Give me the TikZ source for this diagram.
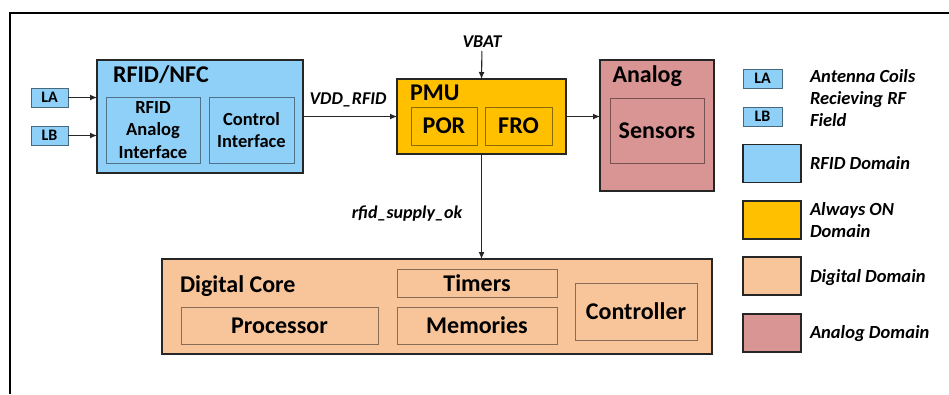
\documentclass[tikz,border=0pt]{standalone}
\usepackage{fontspec}
\setmainfont{Carlito}
\usetikzlibrary{arrows.meta}
\definecolor{rfidblue}{RGB}{143,208,248}
\definecolor{aongold}{RGB}{255,192,0}
\definecolor{digpeach}{RGB}{248,196,154}
\definecolor{anared}{RGB}{217,149,148}
\begin{document}
\begin{tikzpicture}[x=1pt,y=-1pt,
  every node/.style={inner sep=0pt, outer sep=0pt},
  dom/.style={draw=black!85, line width=1.6pt, fill=#1},
  sub/.style={draw=#1!55!black, line width=0.8pt, fill=#1, font=\bfseries\fontsize{24}{28}\selectfont, align=center},
  subsm/.style={font=\bfseries\fontsize{18.5}{22.5}\selectfont},
  small/.style={draw=rfidblue!50!black, line width=0.8pt, fill=rfidblue, font=\bfseries\fontsize{16}{18}\selectfont, minimum width=37pt, minimum height=19pt},
  title/.style={anchor=base west, font=\bfseries\fontsize{24}{28}\selectfont},
  sig/.style={anchor=base, font=\bfseries\itshape\fontsize{18}{22}\selectfont},
  leg/.style={anchor=base west, align=left, font=\bfseries\itshape\fontsize{18.5}{22}\selectfont},
  swatch/.style={draw=black!85, line width=1.4pt, fill=#1, minimum width=58pt, minimum height=38pt},
  arr/.style={draw=black!85, line width=1.1pt, -{Latex[length=7pt,width=6pt]}},
]
\useasboundingbox (0,0) rectangle (949,394);
\draw[line width=1.8pt] (10,394) -- (10,13) -- (949,13);

% RFID/NFC
\node[dom=rfidblue, minimum width=206pt, minimum height=113pt] (rfid) at (200,116.5) {};
\node[title] (rfidt) at (113,82) {RFID/NFC};
\node[sub=rfidblue, subsm, minimum width=94pt, minimum height=66pt] (rai) at (153,130) {RFID\\Analog\\Interface};
\node[sub=rfidblue, subsm, minimum width=85pt, minimum height=66pt] (ci) at (251.5,130) {Control\\Interface};
\node[small] (la) at (49.5,97.5) {LA};
\node[small] (lb) at (49.5,135.5) {LB};

% PMU
\node[dom=aongold, minimum width=169pt, minimum height=75pt] (pmu) at (481.5,116.5) {};
\node[title] (pmut) at (410,100) {PMU};
\node[sub=aongold, minimum width=66pt, minimum height=38pt] (por) at (444,126) {POR};
\node[sub=aongold, minimum width=67pt, minimum height=38pt] (fro) at (518.5,126) {FRO};

% Analog
\node[dom=anared, minimum width=114pt, minimum height=131pt] (ana) at (657,125.5) {};
\node[title] (anat) at (612.5,82) {Analog};
\node[sub=anared, minimum width=94pt, minimum height=65pt] (sens) at (657,130.5) {Sensors};

% Digital core
\node[dom=digpeach, minimum width=550pt, minimum height=95pt] (dig) at (437,306.5) {};
\node[title] (digt) at (180,292) {Digital Core};
\node[sub=digpeach, minimum width=160pt, minimum height=28pt] (tim) at (477,283) {Timers};
\node[sub=digpeach, minimum width=197pt, minimum height=37pt] (proc) at (279.5,325.5) {Processor};
\node[sub=digpeach, minimum width=160pt, minimum height=37pt] (mem) at (477,325.5) {Memories};
\node[sub=digpeach, minimum width=122pt, minimum height=57pt] (ctrl) at (636,311.5) {Controller};

% signal labels
\node[sig] (vddl) at (348,104) {VDD\_RFID};
\node[sig] (vbat) at (482,47) {VBAT};
\node[sig] (rsok) at (407,218) {rfid\_supply\_ok};

% connectors
\draw[arr] (la) -- (la -| rfid.west);
\draw[arr] (lb) -- (lb -| rfid.west);
\draw[arr] (rfid.east) -- (pmu.west);
\draw[arr] (pmu.east) -- (pmu.east -| ana.west);
\draw[arr, shorten <=4pt] (vbat.south) -- (pmu.north);
\draw[arr] (pmu.south) -- (pmu.south |- dig.north);

% legend
\node[small, minimum width=39pt] (lla) at (762.5,78.5) {LA};
\node[small, minimum width=39pt] (llb) at (762.5,116.5) {LB};
\node[swatch=rfidblue] (sw1) at (772,163.5) {};
\node[swatch=aongold] (sw2) at (772,220) {};
\node[swatch=digpeach] (sw3) at (772,276) {};
\node[swatch=anared] (sw4) at (772,333) {};
\node[leg] (t1) at (810,126) {Antenna Coils\\Recieving RF\\Field};
\node[leg] (t2) at (810,169) {RFID Domain};
\node[leg] (t3) at (810,237) {Always ON\\Domain};
\node[leg] (t4) at (810,282) {Digital Domain};
\node[leg] (t5) at (810,338) {Analog Domain};
\end{tikzpicture}
\end{document}
